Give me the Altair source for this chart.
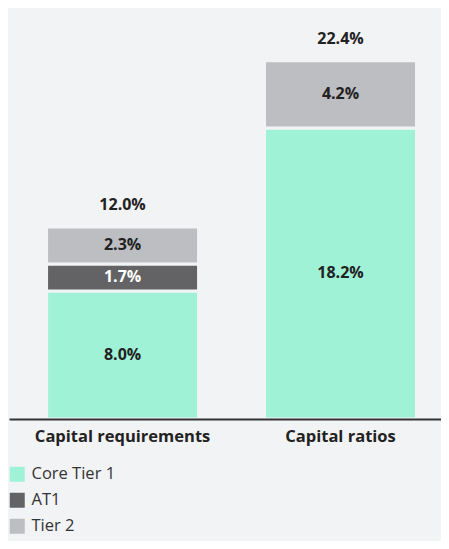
import altair as alt
import pandas as pd

categories = ["Capital requirements", "Capital ratios"]
series = ["Core Tier 1", "AT1", "Tier 2"]
core_tier1 = [8.0, 18.2]
at1 = [1.7, 0.0]
tier2 = [2.3, 4.2]
totals = [12.0, 22.4]
colors = ["#9ff2d6", "#636365", "#bdbec1"]
FONT = "Open Sans"
BG = "#f2f3f5"

rows = []
for i, c in enumerate(categories):
    start = 0.0
    for k, (s, vals) in enumerate(zip(series, [core_tier1, at1, tier2])):
        v = vals[i]
        if v > 0:
            rows.append({"cat": c, "series": s, "order": k, "start": start,
                         "end": start + v, "mid": start + v / 2,
                         "label": f"{v:.1f}%",
                         "lc": "#ffffff" if s == "AT1" else "#222222"})
        start += v
df = pd.DataFrame(rows)
tot = pd.DataFrame({"cat": categories, "total": totals,
                    "label": [f"{t:.1f}%" for t in totals]})

xenc = alt.X("cat:N", sort=categories, title=None,
             scale=alt.Scale(paddingInner=0.078, paddingOuter=0.03, align=1),
             axis=alt.Axis(labelAngle=0, ticks=False, domainColor="#333333",
                           domainWidth=2, labelFont=FONT, labelFontSize=16.5,
                           labelFontWeight="bold", labelColor="#222222",
                           labelPadding=9, grid=False, zindex=1))
yscale = alt.Scale(domain=[0, 25.7])

bars = alt.Chart(df).mark_bar(size=152, stroke=BG, strokeWidth=3).encode(
    x=xenc,
    y=alt.Y("start:Q", scale=yscale, axis=None),
    y2="end:Q",
    color=alt.Color("series:N", sort=series,
                    scale=alt.Scale(domain=series, range=colors),
                    legend=alt.Legend(title=None, orient="none", legendX=0,
                                      legendY=458, symbolType="square",
                                      symbolSize=225, symbolStrokeWidth=0,
                                      labelFont=FONT, labelFontSize=16.5,
                                      labelColor="#333333", labelOffset=6,
                                      rowPadding=9, padding=0)),
    order="order:Q",
)

seg_labels = alt.Chart(df).mark_text(font=FONT, fontSize=16, fontWeight="bold",
                                     baseline="middle").encode(
    x=alt.X("cat:N", sort=categories),
    y=alt.Y("mid:Q", scale=yscale),
    text="label:N",
    color=alt.Color("lc:N", scale=None),
)

tot_labels = alt.Chart(tot).mark_text(font=FONT, fontSize=16, fontWeight="bold",
                                      baseline="middle", dy=-22,
                                      color="#222222").encode(
    x=alt.X("cat:N", sort=categories),
    y=alt.Y("total:Q", scale=yscale),
    text="label:N",
)

chart = alt.layer(bars, seg_labels, tot_labels).properties(
    width=432, height=411,
    autosize=alt.AutoSizeParams(type="none"),
    padding={"left": 1, "top": 0, "right": 0, "bottom": 122},
    background=BG,
).configure_view(stroke=None)

chart.save("out.html", embed_options={"renderer": "svg", "actions": False})
